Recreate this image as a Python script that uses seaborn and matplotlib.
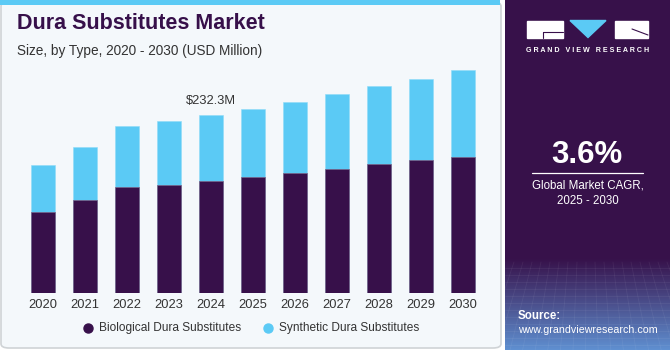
import numpy as np
import pandas as pd
import matplotlib
matplotlib.use("Agg")
from matplotlib import pyplot as plt
from matplotlib.patches import FancyBboxPatch, Rectangle, Polygon
from matplotlib.lines import Line2D
import seaborn as sns

# values (USD Million)
years = ["2020", "2021", "2022", "2023", "2024", "2025", "2026", "2027", "2028", "2029", "2030"]
biological = [106.1, 121.0, 138.3, 140.5, 145.7, 150.9, 156.1, 161.3, 167.8, 173.0, 177.3]
synthetic = [60.8, 68.9, 79.3, 84.0, 86.6, 89.2, 92.3, 97.9, 101.4, 105.7, 112.8]
highlight_year = "2024"
highlight_label = "$232.3M"
cagr = "3.6%"

PURPLE = "#37104a"
CYAN = "#5bcaf5"
W, H = 670, 350

df = pd.DataFrame({"year": years, "bio": biological, "syn": synthetic})
df["total"] = df["bio"] + df["syn"]

sns.set_theme(style="white")
plt.rcParams["font.family"] = ["Liberation Sans", "DejaVu Sans"]

fig = plt.figure(figsize=(6.7, 3.5), dpi=100)
fig.patch.set_facecolor("white")


def fx(x):
    return x / W


def fy(y):
    return 1 - y / H


# main panel
fig.patches.append(FancyBboxPatch((fx(1), fy(348)), fx(500), fy(2) - fy(348),
                                  boxstyle="round,pad=0,rounding_size=0.012",
                                  transform=fig.transFigure, facecolor="#f4f8fb",
                                  edgecolor="#cfd3d6", linewidth=1.2, zorder=-2))
fig.patches.append(Rectangle((fx(0), fy(5)), fx(500), fy(0) - fy(5),
                             transform=fig.transFigure, facecolor=CYAN,
                             edgecolor="none", zorder=-1))

# right panel with gradient at the bottom
side = fig.add_axes([fx(505), 0, fx(165), 1])
grad = np.linspace(0, 1, 350)
grad = np.clip((grad - 0.74) / 0.26, 0, 1)[:, None]
c0 = np.array(matplotlib.colors.to_rgb("#37114a"))
c1 = np.array(matplotlib.colors.to_rgb("#5f8fd0"))
img = c0[None, None, :] * (1 - grad[..., None]) + c1[None, None, :] * grad[..., None]
side.imshow(img, aspect="auto", extent=[0, 165, 350, 0])
for gx in np.arange(0, 170, 9):
    side.plot([gx, gx + (gx - 82) * 0.4], [262, 350], color="white", alpha=0.06, lw=0.6)
for gy in np.arange(268, 350, 7):
    side.plot([0, 165], [gy, gy], color="white", alpha=0.06, lw=0.6)
side.set_xlim(0, 165)
side.set_ylim(350, 0)
side.axis("off")

# logo
side.add_patch(Rectangle((22, 20.5), 36, 17, color="white"))
side.plot([38, 58], [32, 32], color=PURPLE, lw=0.8)
side.plot([38, 38], [32, 37.5], color=PURPLE, lw=0.8)
side.add_patch(Polygon([[65, 20.5], [101, 20.5], [83, 37.5]], color=CYAN))
side.add_patch(Rectangle((110, 20.5), 33, 17, color="white"))
side.plot([127, 143], [29, 35], color=PURPLE, lw=0.8)
side.text(82.5, 50.5, "G R A N D   V I E W   R E S E A R C H", color="white", fontsize=5.1,
          fontweight="bold", ha="center", va="center")
side.text(82, 155, cagr, color="white", fontsize=22.5, fontweight="bold",
          ha="center", va="center")
side.plot([27, 138], [173.3, 173.3], color="white", lw=0.9)
side.text(82.5, 186, "Global Market CAGR,", color="white", fontsize=8.3,
          ha="center", va="center")
side.text(82.5, 201.5, "2025 - 2030", color="white", fontsize=8.3,
          ha="center", va="center")
side.text(13, 316, "Source:", color="white", fontsize=8.3, fontweight="bold",
          ha="left", va="center")
side.text(13, 330, "www.grandviewresearch.com", color="white", fontsize=7.7,
          ha="left", va="center")

# title
fig.text(fx(17), fy(29), "Dura Substitutes Market", color=PURPLE, fontsize=15.5,
         fontweight="heavy", ha="left", va="baseline")
fig.text(fx(17), fy(50.5), "Size, by Type, 2020 - 2030 (USD Million)", color="#333333",
         fontsize=9.8, ha="left", va="center")

# bar chart
top_px, base_px = 60, 293.3
ax = fig.add_axes([fx(21.8), fy(base_px), fx(462), fy(top_px) - fy(base_px)])
ax.set_facecolor("none")
sns.barplot(data=df, x="year", y="total", color=CYAN, saturation=1, width=0.57,
            edgecolor="#8fdcf8", linewidth=0.4, ax=ax)
sns.barplot(data=df, x="year", y="bio", color=PURPLE, saturation=1, width=0.57,
            edgecolor="#7a6387", linewidth=0.5, ax=ax)
ax.set_xlim(-0.5, len(years) - 0.5)
ax.set_ylim(0, (base_px - top_px) * 232.3 / 178.6)
ax.set_xlabel("")
ax.set_ylabel("")
ax.set_yticks([])
ax.tick_params(axis="x", length=0, pad=4, labelsize=9.3, labelcolor="#333333")
for s in ax.spines.values():
    s.set_visible(False)

i = years.index(highlight_year)
ax.text(i, df["total"][i] + 10.5, highlight_label, ha="center", va="bottom",
        fontsize=9.3, color="#333333")

# legend
for x0, col, lab in [(88, PURPLE, "Biological Dura Substitutes"),
                     (268, CYAN, "Synthetic Dura Substitutes")]:
    fig.add_artist(Line2D([fx(x0)], [fy(327.5)], marker="o", markersize=6.5,
                          color=col, linestyle="none", transform=fig.transFigure))
    fig.text(fx(x0 + 11), fy(327.5), lab, fontsize=8.6, color="#333333",
             ha="left", va="center")

fig.savefig("out.png", dpi=100)
